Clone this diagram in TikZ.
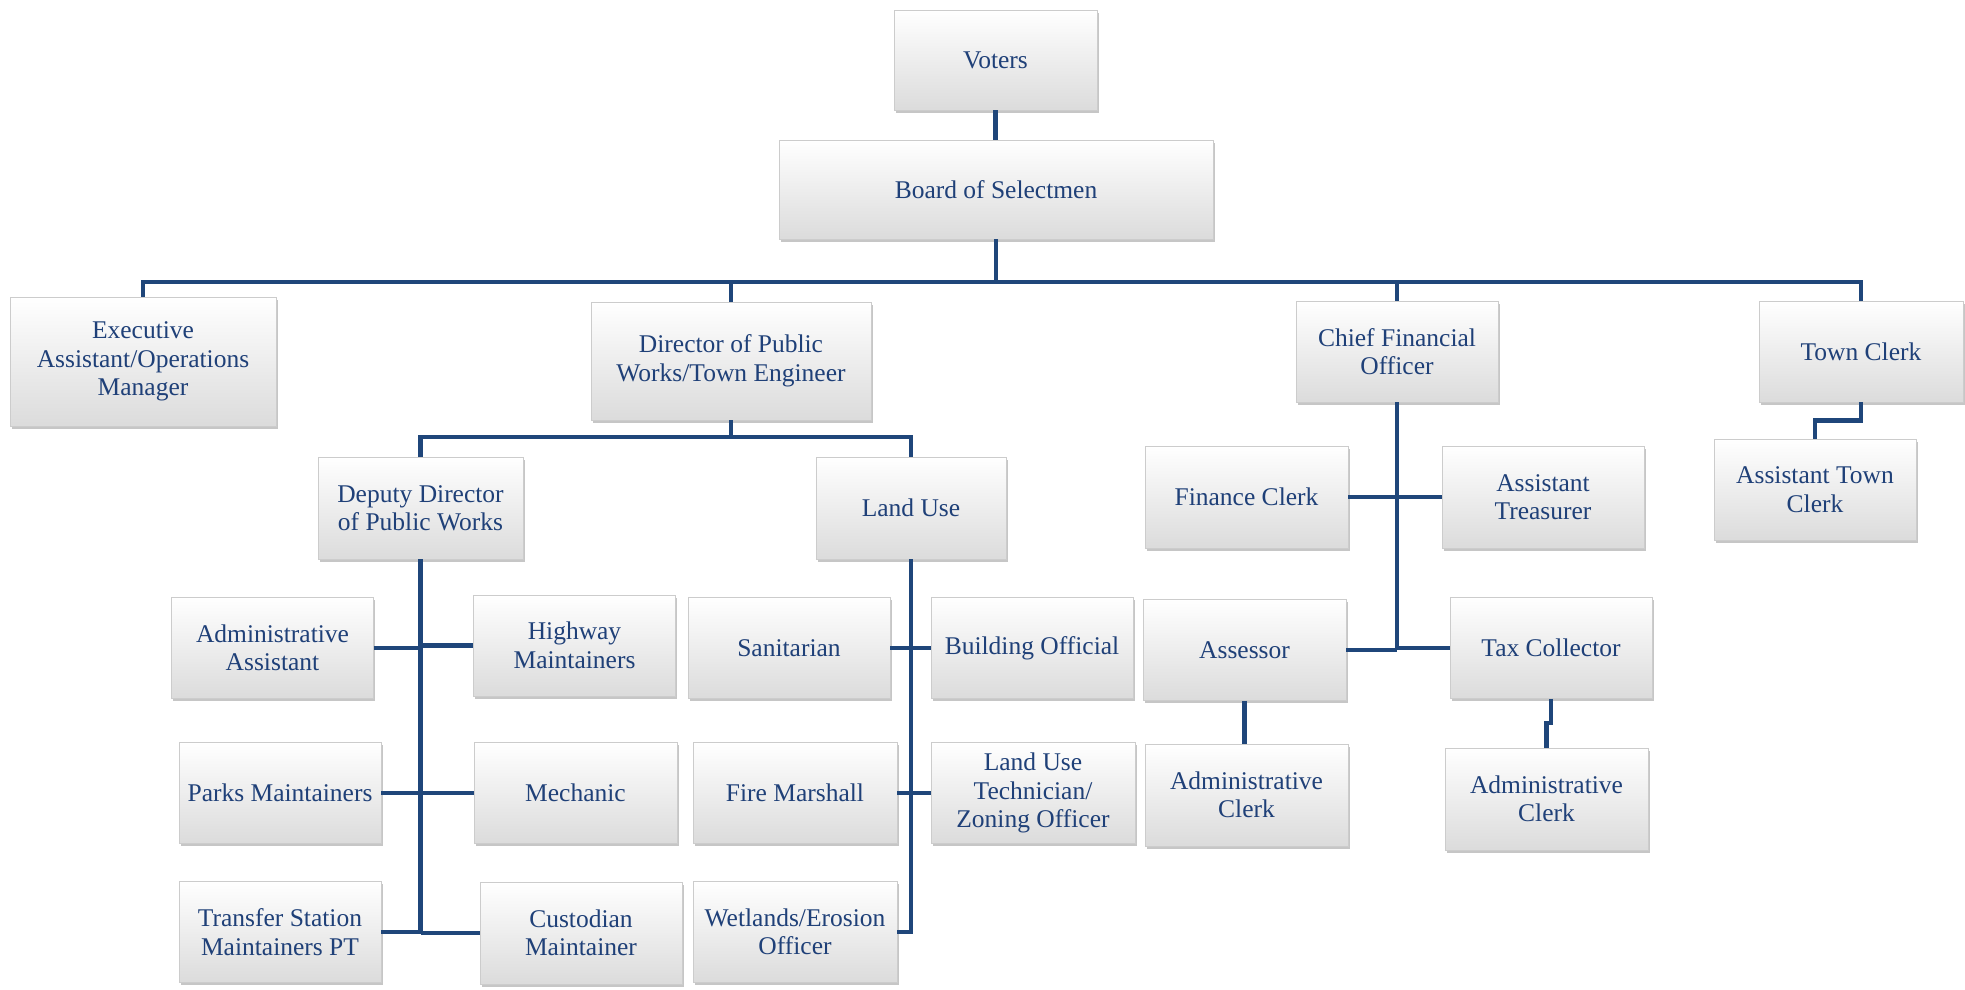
\documentclass[tikz,border=0pt]{standalone}
\usepackage{fontspec}
\setmainfont{Liberation Serif}
\usetikzlibrary{shadows}
\definecolor{txt}{RGB}{31,64,120}
\definecolor{ln}{RGB}{31,70,122}
\begin{document}
\begin{tikzpicture}[x=1pt,y=-1pt,
  box/.style={rectangle, draw=gray!40, line width=0.8pt, top color=white, bottom color=gray!28,
    drop shadow={shadow xshift=1.8pt, shadow yshift=-2.5pt, opacity=0.45, fill=gray},
    text=txt, align=center, inner sep=1pt, minimum width=202pt, minimum height=101pt,
    font=\fontsize{25.5}{28.5}\selectfont},
  conn/.style={draw=ln, line width=4.5pt, line join=miter, line cap=butt}]
\useasboundingbox (0,0) rectangle (1965,989);

% level 0-1
\node[box, minimum width=203pt, minimum height=100pt] (voters) at (995.5,60) {Voters};
\node[box, minimum width=434pt, minimum height=99pt] (board) at (996,189.5) {Board of Selectmen};

% level 2
\node[box, minimum width=266pt, minimum height=129pt] (exec) at (143,361.5) {Executive\\Assistant/Operations\\Manager};
\node[box, minimum width=280pt, minimum height=118pt] (dir) at (731,361) {Director of Public\\Works/Town Engineer};
\node[box, minimum width=202pt, minimum height=101pt] (cfo) at (1397,351.5) {Chief Financial\\Officer};
\node[box, minimum width=204pt, minimum height=101pt] (tc) at (1861,351.5) {Town Clerk};

% level 3
\node[box] (atc) at (1815,489.5) {Assistant Town\\Clerk};
\node[box, minimum width=205pt, minimum height=102pt] (dep) at (420.5,508) {Deputy Director\\of Public Works};
\node[box, minimum width=190pt, minimum height=102pt] (lu) at (911,508) {Land Use};
\node[box, minimum width=203pt, minimum height=102pt] (fc) at (1246.5,497) {Finance Clerk};
\node[box, minimum width=202pt, minimum height=102pt] (at) at (1543,497) {Assistant\\Treasurer};

% row A
\node[box] (aa) at (272.5,648) {Administrative\\Assistant};
\node[box] (hw) at (574.5,645.5) {Highway\\Maintainers};
\node[box] (san) at (789,648) {Sanitarian};
\node[box] (bo) at (1032,648) {Building Official};
\node[box, minimum width=203pt] (ass) at (1244.5,650) {Assessor};
\node[box] (tax) at (1551,648) {Tax Collector};

% row B
\node[box] (parks) at (280,793) {Parks Maintainers};
\node[box, minimum width=203pt] (mech) at (575.5,793) {Mechanic};
\node[box, minimum width=204pt] (fire) at (795,793) {Fire Marshall};
\node[box, minimum width=204pt] (lut) at (1033,793) {Land Use\\Technician/\\Zoning Officer};
\node[box, minimum width=203pt, minimum height=102pt] (ac1) at (1246.5,795) {Administrative\\Clerk};
\node[box, minimum width=203pt, minimum height=102pt] (ac2) at (1546.5,799) {Administrative\\Clerk};

% row C
\node[box] (ts) at (280,932) {Transfer Station\\Maintainers PT};
\node[box, minimum height=102pt] (cust) at (581,933) {Custodian\\Maintainer};
\node[box, minimum width=204pt] (wet) at (795,932) {Wetlands/Erosion\\Officer};

% connectors
\coordinate (bus) at (996,282);
\coordinate (dbus) at (731,437);

\draw[conn] (voters.south) -- (voters.south |- board.north);
\draw[conn] (board.south) -- (bus);
\draw[conn] (exec.north) |- (bus) -| (tc.north);
\draw[conn] (dir.north) -- (dir.north |- bus);
\draw[conn] (cfo.north) -- (cfo.north |- bus);

\draw[conn] (dir.south) -- (dbus);
\draw[conn] (dep.north) |- (dbus) -| (lu.north);

% deputy spine
\draw[conn] (dep.south) |- (ts.east);
\draw[conn] (dep.south |- cust.west) -- (cust.west);
\draw[conn] (aa.east) -- (aa.east -| dep.south);
\draw[conn] (hw.west) -- (hw.west -| dep.south);
\draw[conn] (parks.east) -- (parks.east -| dep.south);
\draw[conn] (mech.west) -- (mech.west -| dep.south);

% land use spine
\draw[conn] (lu.south) |- (wet.east);
\draw[conn] (san.east) -- (san.east -| lu.south);
\draw[conn] (bo.west) -- (bo.west -| lu.south);
\draw[conn] (fire.east) -- (fire.east -| lu.south);
\draw[conn] (lut.west) -- (lut.west -| lu.south);

% CFO spine
\draw[conn] (cfo.south) -- (cfo.south |- ass.east);
\draw[conn] (ass.east) -- (ass.east -| cfo.south);
\draw[conn] (tax.west) -- (tax.west -| cfo.south);
\draw[conn] (fc.east) -- (fc.east -| cfo.south);
\draw[conn] (at.west) -- (at.west -| cfo.south);

% town clerk
\draw[conn] (tc.south) -- ++(0,18) -| (atc.north);

% assessor / tax collector
\draw[conn] (ass.south) -- (ass.south |- ac1.north);
\draw[conn] (tax.south) -- ++(0,24) -| (ac2.north);
\end{tikzpicture}
\end{document}
